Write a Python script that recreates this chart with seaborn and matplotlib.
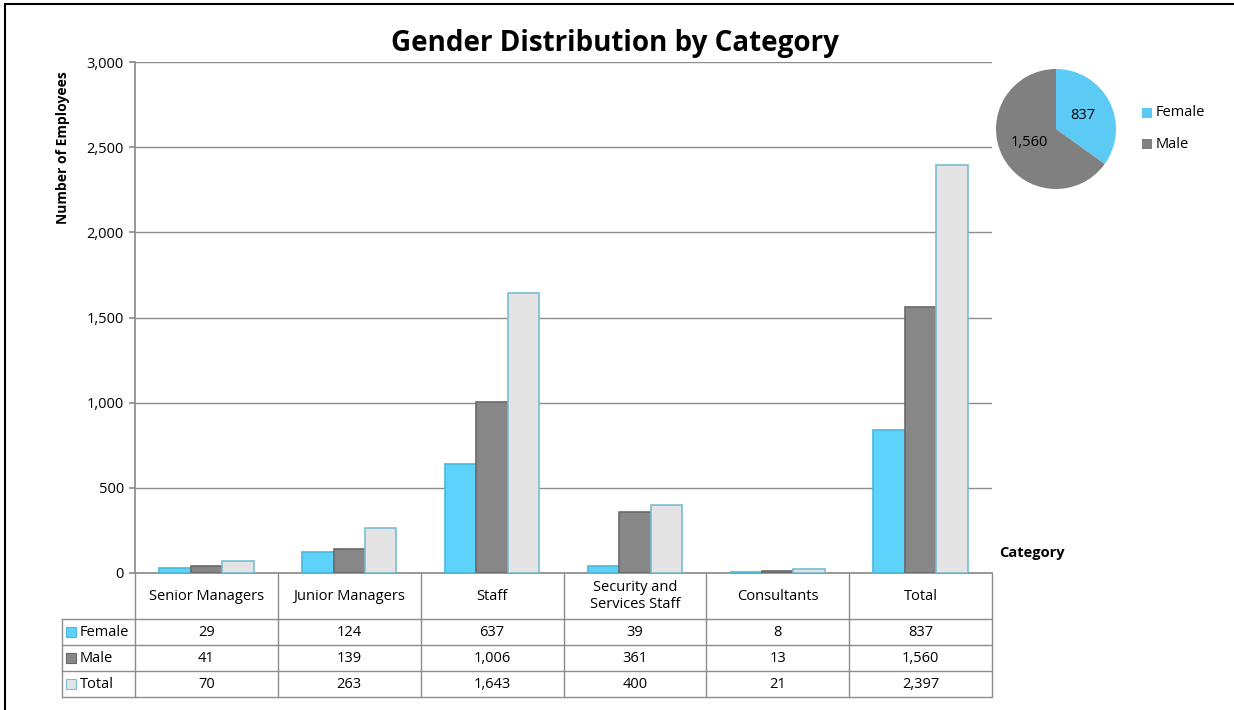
import matplotlib
matplotlib.use("Agg")
import matplotlib.pyplot as plt
from matplotlib.lines import Line2D
from matplotlib.patches import Rectangle
import pandas as pd
import seaborn as sns

# data
categories = ["Senior Managers", "Junior Managers", "Staff",
              "Security and\nServices Staff", "Consultants", "Total"]
female = [29, 124, 637, 39, 8, 837]
male = [41, 139, 1006, 361, 13, 1560]
total = [70, 263, 1643, 400, 21, 2397]
series = ["Female", "Male", "Total"]
pie_labels = ["Female", "Male"]
pie_values = [837, 1560]
y_ticks = [0, 500, 1000, 1500, 2000, 2500, 3000]

colors = {"Female": "#5DD2FA", "Male": "#878787", "Total": "#E4E4E4"}
edges = {"Female": "#4BB8D8", "Male": "#6A6A6A", "Total": "#78BDD2"}
pie_colors = ["#5BCBF5", "#808080"]

W, H = 1234, 710
FONT = ["Open Sans", "DejaVu Sans"]


def fx(x):
    return x / W


def fy(y):
    return 1 - y / H


def main():
    sns.set_theme(style="white")
    plt.rcParams["font.family"] = FONT
    plt.rcParams["text.color"] = "black"
    plt.rcParams["ytick.color"] = "black"
    fig = plt.figure(figsize=(W / 100, H / 100), dpi=100)

    # main bar axes, pixel box 135..992 x 62..573
    ax = fig.add_axes([fx(135), fy(573), fx(992) - fx(135), fy(62) - fy(573)])
    df = pd.DataFrame({
        "Category": categories * 3,
        "Series": [s for s in series for _ in categories],
        "Count": female + male + total,
    })
    sns.barplot(data=df, x="Category", y="Count", hue="Series",
                palette=colors, width=0.66, saturation=1, legend=False,
                ax=ax)
    for cont, name in zip(ax.containers, series):
        for bar in cont:
            bar.set_edgecolor(edges[name])
            bar.set_linewidth(1.2)
            bar.set_zorder(3)
    ax.set_xlim(-0.5, len(categories) - 0.5)
    ax.set_ylim(0, 3000)
    ax.set_yticks(y_ticks)
    ax.set_yticklabels([f"{v:,}" for v in y_ticks], fontsize=10.5)
    ax.set_xticks([])
    ax.set_xlabel("")
    ax.set_ylabel("")
    ax.grid(axis="y", color="#8C8C8C", linewidth=1)
    ax.set_axisbelow(True)
    for s in ["top", "right"]:
        ax.spines[s].set_visible(False)
    ax.spines["left"].set_color("#8C8C8C")
    ax.spines["bottom"].set_color("#8C8C8C")
    ax.tick_params(axis="y", left=True, length=4, color="#8C8C8C",
                   pad=4, labelcolor="black")

    fig.text(fx(615), fy(43), "Gender Distribution by Category",
             ha="center", va="center", fontsize=20, fontweight="bold")
    fig.text(fx(63), fy(148), "Number of Employees", rotation=90,
             ha="center", va="center", fontsize=10, fontweight="bold")
    fig.text(fx(999), fy(553), "Category", ha="left", va="center",
             fontsize=10.5, fontweight="bold")

    # data table under the bars
    lc = "#8C8C8C"
    col_w = (992 - 135) / len(categories)
    rows = [(619, 645), (645, 671), (671, 697)]
    for i in range(len(categories) + 1):
        x = 135 + i * col_w
        fig.add_artist(Line2D([fx(x), fx(x)], [fy(573), fy(697)],
                              color=lc, lw=1))
    for y in [619, 645, 671, 697]:
        fig.add_artist(Line2D([fx(62), fx(992)], [fy(y), fy(y)],
                              color=lc, lw=1))
    fig.add_artist(Line2D([fx(62), fx(62)], [fy(619), fy(697)],
                          color=lc, lw=1))
    for i, cat in enumerate(categories):
        cx = 135 + (i + 0.5) * col_w
        fig.text(fx(cx), fy(596), cat, ha="center", va="center",
                 fontsize=10.5, linespacing=1.1)
    for (y0, y1), name, vals in zip(rows, series, [female, male, total]):
        cy = (y0 + y1) / 2
        fig.add_artist(Rectangle((fx(66), fy(cy + 5)), fx(10), 10 / H,
                                 facecolor=colors[name],
                                 edgecolor=edges[name], lw=0.8,
                                 transform=fig.transFigure))
        fig.text(fx(80), fy(cy), name, ha="left", va="center",
                 fontsize=10.5)
        for i, v in enumerate(vals):
            cx = 135 + (i + 0.5) * col_w
            fig.text(fx(cx), fy(cy), f"{v:,}", ha="center", va="center",
                     fontsize=10.5)

    # pie of the total split
    pax = fig.add_axes([fx(996), fy(189), fx(120), 120 / H])
    pax.pie(pie_values, colors=pie_colors, startangle=90,
            counterclock=False, wedgeprops={"linewidth": 0})
    pax.set_aspect("equal")
    pax.set_xlim(-1, 1)
    pax.set_ylim(-1, 1)
    pax.text(0.45, 0.22, f"{pie_values[0]:,}", ha="center", va="center",
             fontsize=10.5)
    pax.text(-0.44, -0.22, f"{pie_values[1]:,}", ha="center", va="center",
             fontsize=10.5)
    for name, col, y in zip(pie_labels, pie_colors, [113, 144]):
        fig.add_artist(Rectangle((fx(1142), fy(y + 5)), fx(10), 10 / H,
                                 facecolor=col, edgecolor="none",
                                 transform=fig.transFigure))
        fig.text(fx(1156), fy(y), name, ha="left", va="center",
                 fontsize=10.5)

    # frame lines on top and left
    fig.add_artist(Line2D([fx(5), 1], [fy(4), fy(4)], color="black", lw=1.5))
    fig.add_artist(Line2D([fx(5), fx(5)], [fy(4), 0], color="black", lw=1.5))

    fig.savefig("out.png", dpi=100)


if __name__ == "__main__":
    main()
